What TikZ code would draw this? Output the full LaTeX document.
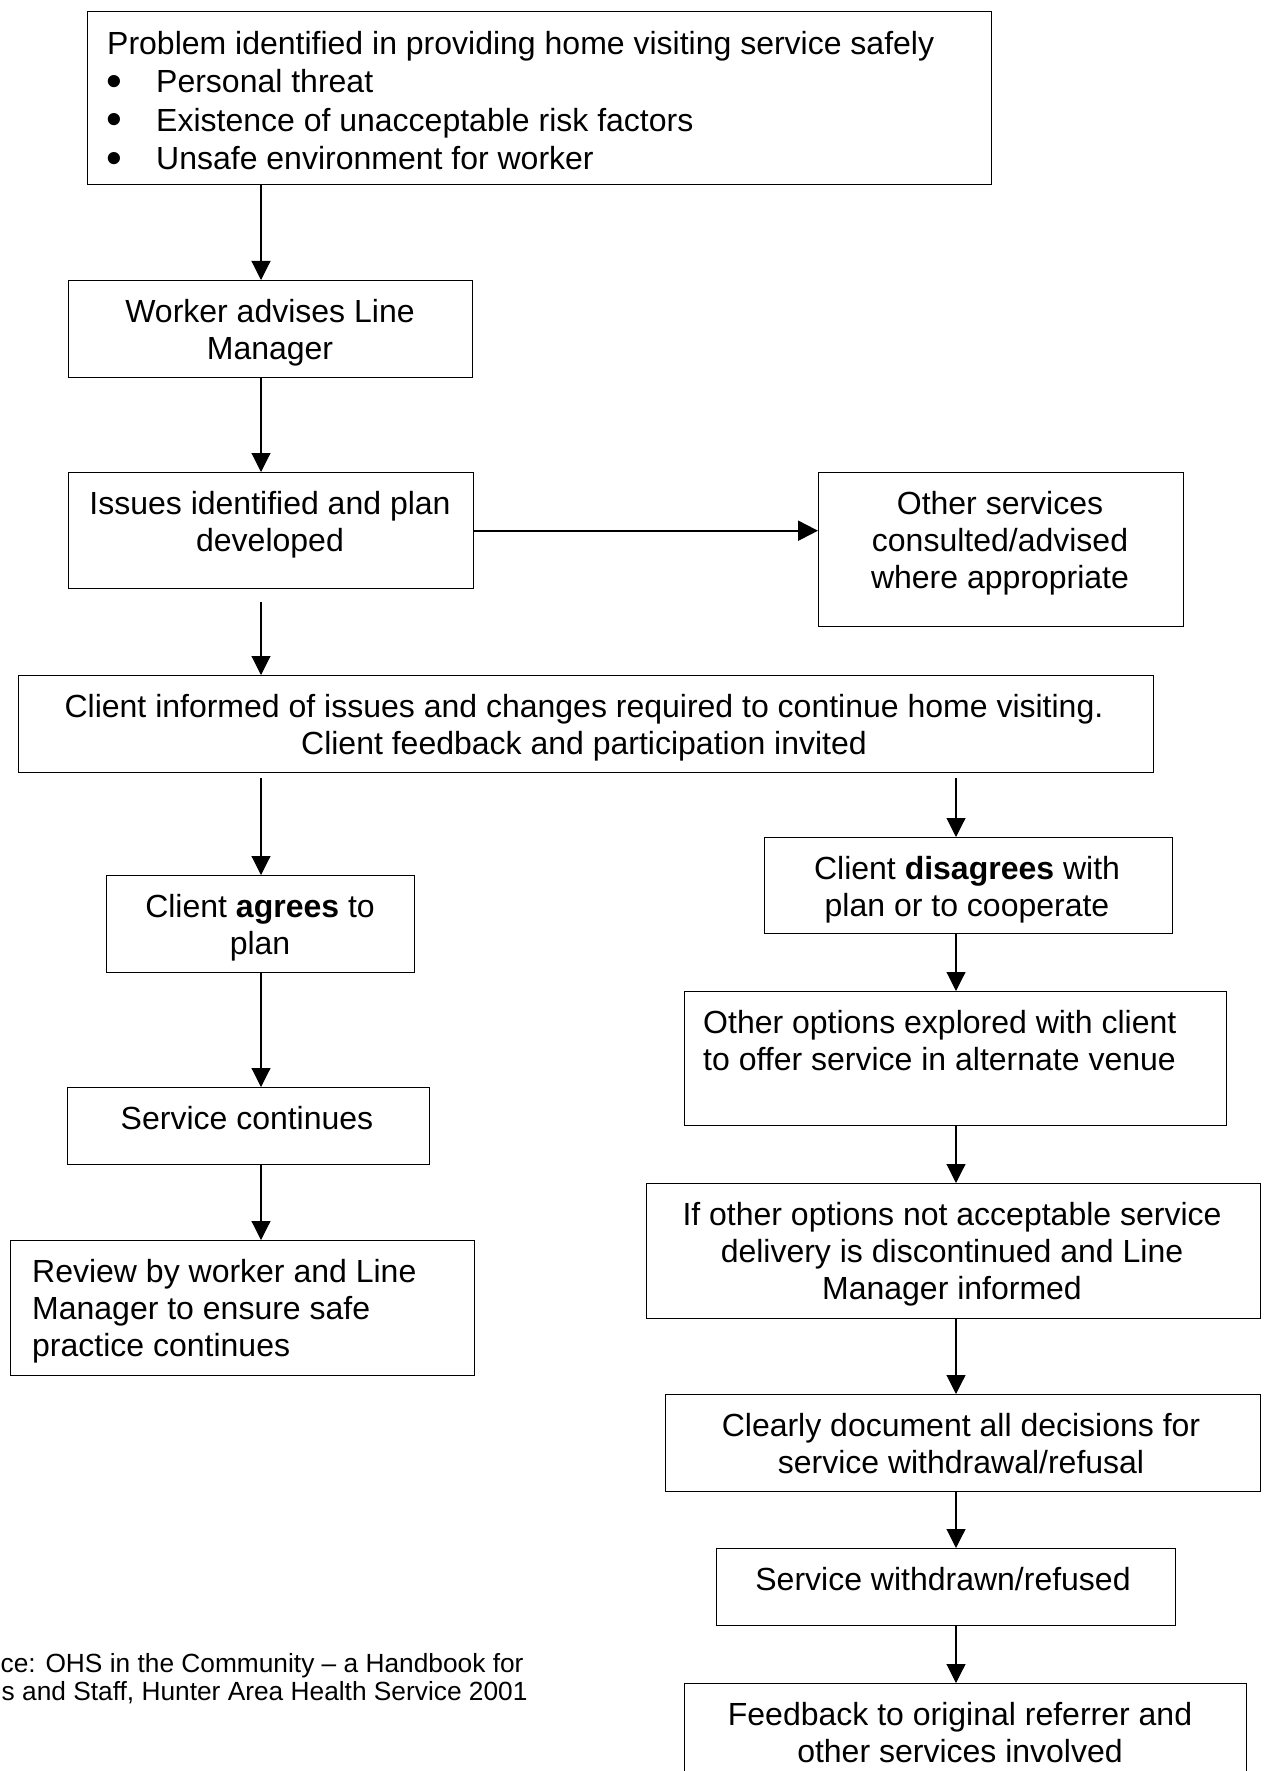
\documentclass[tikz,border=0pt]{standalone}
\usepackage{fontspec}
\setmainfont{Liberation Sans}
\usetikzlibrary{arrows.meta}
\newcommand\bigbul{\makebox[0pt][l]{\hspace*{-0.8pt}\smash{\raisebox{-3.5pt}{\fontsize{45}{45}\selectfont\textbullet}}}\hspace*{49pt}}
\begin{document}
\begin{tikzpicture}[x=1pt,y=-1pt,
  box/.style={draw, line width=1.4pt, inner sep=0pt, anchor=north west},
  txt/.style={inner sep=0pt, font=\fontsize{32}{37}\selectfont, align=center, anchor=north},
  txtl/.style={txt, align=left, anchor=north west},
  src/.style={inner sep=0pt, font=\fontsize{26.3}{28}\selectfont, anchor=base west},
  arr/.style={line width=1.1pt, -{Triangle[length=19pt,width=19pt]}},
  arrthick/.style={line width=2pt, -{Triangle[length=20pt,width=20pt]}}]
\useasboundingbox (0,0) rectangle (1266,1771);
% column guides
\coordinate (colL) at (261,0);
\coordinate (colR) at (956,0);
% boxes
\node[box, minimum width=904pt, minimum height=173pt] (top) at (87,11) {};
\node[box, minimum width=404pt, minimum height=97pt] (worker) at (68,280) {};
\node[box, minimum width=405pt, minimum height=116pt] (issues) at (68,472) {};
\node[box, minimum width=365pt, minimum height=154pt] (other) at (818,472) {};
\node[box, minimum width=1135pt, minimum height=97pt] (client) at (18,675) {};
\node[box, minimum width=308pt, minimum height=97pt] (agrees) at (106,875) {};
\node[box, minimum width=408pt, minimum height=96pt] (disagrees) at (764,837) {};
\node[box, minimum width=362pt, minimum height=77pt] (cont) at (67,1087) {};
\node[box, minimum width=464pt, minimum height=135pt] (review) at (10,1240) {};
\node[box, minimum width=542pt, minimum height=134pt] (options) at (684,991) {};
\node[box, minimum width=614pt, minimum height=135pt] (ifnot) at (646,1183) {};
\node[box, minimum width=595pt, minimum height=97pt] (clearly) at (665,1394) {};
\node[box, minimum width=459pt, minimum height=77pt] (withdrawn) at (716,1548) {};
\node[box, minimum width=562pt, minimum height=97pt] (feedback) at (684,1683) {};
% texts
\node[txtl, font=\fontsize{32}{38.5}\selectfont] (toptxt) at (107,31) {Problem identified in providing home visiting service safely\\
\bigbul Personal threat\\
\bigbul Existence of unacceptable risk factors\\
\bigbul Unsafe environment for worker};
\node[txt] (workertxt) at (270,299.5) {Worker advises Line\\Manager};
\node[txt] (issuestxt) at (270,491.5) {Issues identified and plan\\developed};
\node[txt] (othertxt) at (1000,491.5) {Other services\\consulted/advised\\where appropriate};
\node[txt] (clienttxt) at (584,694.5) {Client informed of issues and changes required to continue home visiting.\\Client feedback and participation invited};
\node[txt] (agreestxt) at (260,894.5) {Client \textbf{agrees} to\\plan};
\node[txt] (disagreestxt) at (967,856.5) {Client \textbf{disagrees} with\\plan or to cooperate};
\node[txt] (conttxt) at (247,1106.5) {Service continues};
\node[txtl] (reviewtxt) at (32,1259.5) {Review by worker and Line\\Manager to ensure safe\\practice continues};
\node[txtl] (optionstxt) at (703,1010.5) {Other options explored with client\\to offer service in alternate venue};
\node[txt] (ifnottxt) at (952,1202.5) {If other options not acceptable service\\delivery is discontinued and Line\\Manager informed};
\node[txt] (clearlytxt) at (961,1413.5) {Clearly document all decisions for\\service withdrawal/refusal};
\node[txt] (withdrawntxt) at (943,1567.5) {Service withdrawn/refused};
\node[txt] (feedbacktxt) at (960,1702.5) {Feedback to original referrer and\\other services involved};
\node[src] (src1) at (0.5,1672) {ce: OHS in the Community – a Handbook for};
\node[src] (src2) at (1.5,1700) {s and Staff, Hunter Area Health Service 2001};
% free connector starts
\coordinate (s1) at (261,602);
\coordinate (s2) at (261,778);
\coordinate (s3) at (956,778);
% connectors
\draw[arr] (top.south -| colL) -- (worker.north -| colL);
\draw[arr] (worker.south -| colL) -- (issues.north -| colL);
\draw[arrthick] (issues.east) -- (issues.east -| other.west);
\draw[arr] (s1) -- (client.north -| s1);
\draw[arr] (s2) -- (agrees.north -| s2);
\draw[arr] (s3) -- (disagrees.north -| s3);
\draw[arr] (agrees.south -| colL) -- (cont.north -| colL);
\draw[arr] (cont.south -| colL) -- (review.north -| colL);
\draw[arr] (disagrees.south -| colR) -- (options.north -| colR);
\draw[arr] (options.south -| colR) -- (ifnot.north -| colR);
\draw[arr] (ifnot.south -| colR) -- (clearly.north -| colR);
\draw[arr] (clearly.south -| colR) -- (withdrawn.north -| colR);
\draw[arr] (withdrawn.south -| colR) -- (feedback.north -| colR);
\end{tikzpicture}
\end{document}
